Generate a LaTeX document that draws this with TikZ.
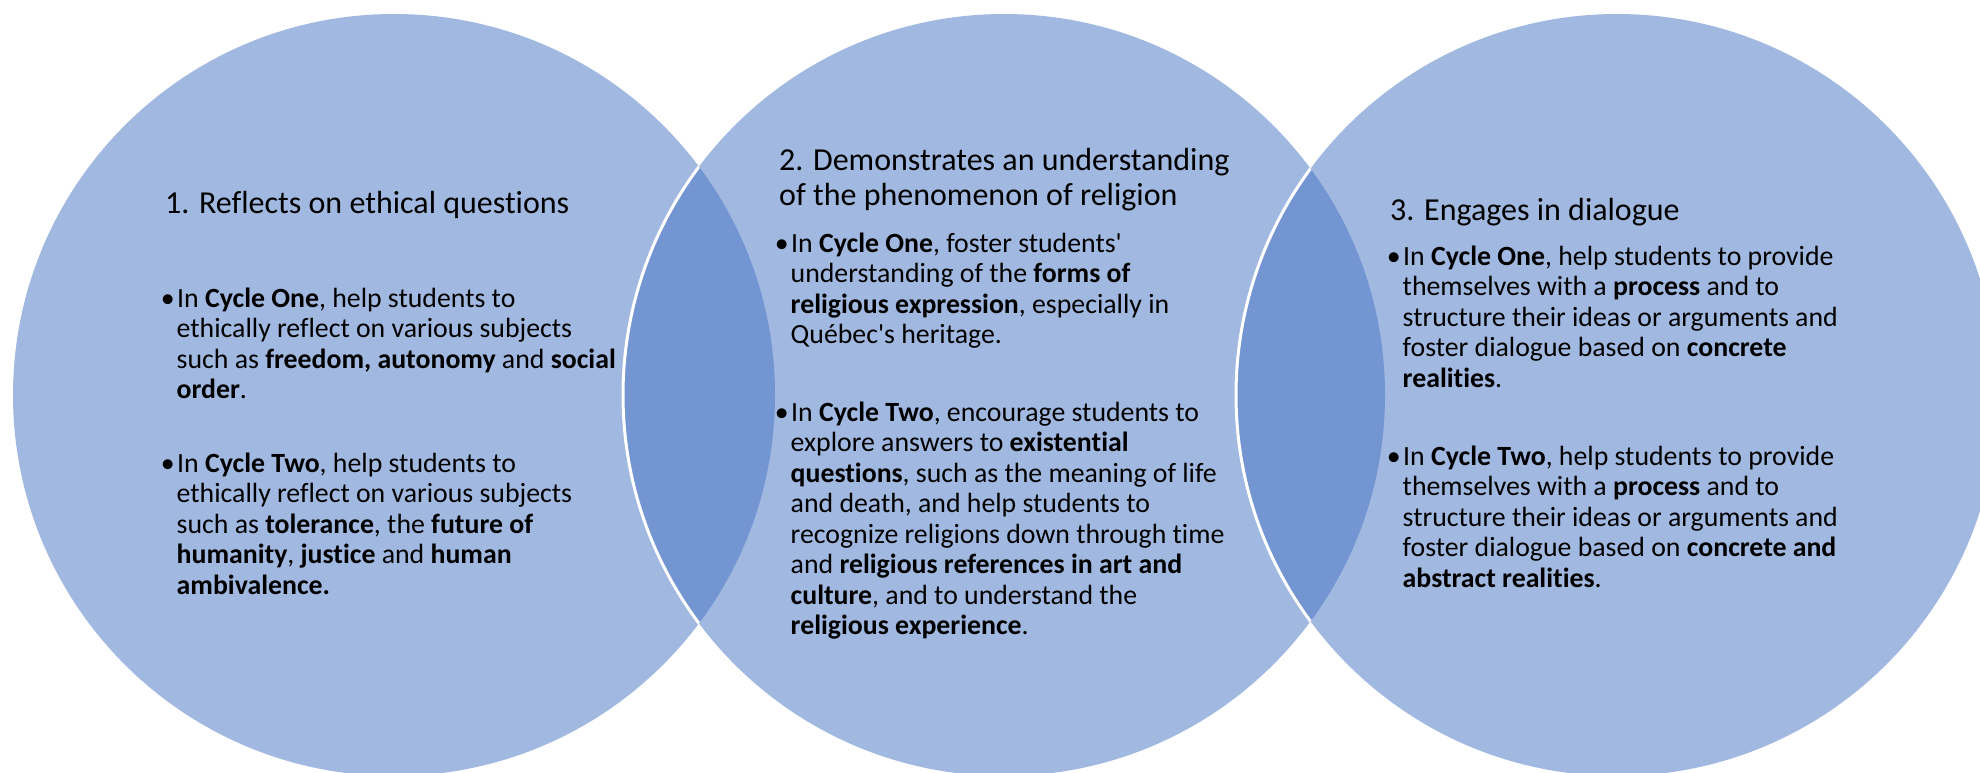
\documentclass[tikz,border=0pt]{standalone}
\usepackage{fontspec}
\setmainfont{Carlito}[Ligatures={TeXOff,NoCommon}]
\definecolor{vennlight}{HTML}{A1B8E1}
\definecolor{venndark}{HTML}{7395D2}
\newcommand\txtblock[1]{\begin{tabular}[t]{@{}l@{}}#1\end{tabular}}
\newcommand\bul{\llap{•\hspace{2pt}}\hspace{0.5pt}}
\begin{document}
\begin{tikzpicture}[x=1pt,y=-1pt,
  ttl/.style={anchor=base west, inner sep=0pt, font=\fontsize{32}{35}\selectfont},
  body/.style={anchor=base west, inner sep=0pt, font=\fontsize{27.8}{30.5}\selectfont},
  rim/.style={draw=white, line width=3pt}]
\useasboundingbox (0,0) rectangle (1980,772);
\begin{scope}
\clip (0,0) rectangle (1980,772);
% circles
\fill[vennlight] (394,395) circle[radius=381pt];
\fill[vennlight] (1004,395) circle[radius=381pt];
\fill[vennlight] (1617,395) circle[radius=381pt];
% lenses
\begin{scope}
  \clip (394,395) circle[radius=381pt];
  \fill[venndark] (1004,395) circle[radius=381pt];
  \draw[rim] (1004,395) circle[radius=381pt];
\end{scope}
\begin{scope}
  \clip (1004,395) circle[radius=381pt];
  \fill[venndark] (1617,395) circle[radius=381pt];
  \draw[rim] (1617,395) circle[radius=381pt];
\end{scope}
\end{scope}
% circle 1 text
\node[ttl] (t1) at (165,213) {1. Reflects on ethical questions};
\node[body] (a1) at (176.5,307) {\txtblock{%
\bul In \textbf{Cycle One}, help students to\\
ethically reflect on various subjects\\
such as \textbf{freedom, autonomy} and \textbf{social}\\
\textbf{order}.}};
\node[body] (a2) at (176.5,472) {\txtblock{%
\bul In \textbf{Cycle Two}, help students to\\
ethically reflect on various subjects\\
such as \textbf{tolerance}, the \textbf{future of}\\
\textbf{humanity}, \textbf{justice} and \textbf{human}\\
\textbf{ambivalence.}}};
% circle 2 text
\node[ttl] (t2) at (779,170) {\fontsize{32}{35}\selectfont\txtblock{%
2. Demonstrates an understanding\\
of the phenomenon of religion}};
\node[body] (b1) at (790.5,252) {\txtblock{%
\bul In \textbf{Cycle One}, foster students'\\
understanding of the \textbf{forms of}\\
\textbf{religious expression}, especially in\\
Québec's heritage.}};
\node[body] (b2) at (790.5,421) {\txtblock{%
\bul In \textbf{Cycle Two}, encourage students to\\
explore answers to \textbf{existential}\\
\textbf{questions}, such as the meaning of life\\
and death, and help students to\\
recognize religions down through time\\
and \textbf{religious references in art and}\\
\textbf{culture}, and to understand the\\
\textbf{religious experience}.}};
% circle 3 text
\node[ttl] (t3) at (1390,220) {3. Engages in dialogue};
\node[body] (c1) at (1402.5,265) {\txtblock{%
\bul In \textbf{Cycle One}, help students to provide\\
themselves with a \textbf{process} and to\\
structure their ideas or arguments and\\
foster dialogue based on \textbf{concrete}\\
\textbf{realities}.}};
\node[body] (c2) at (1402.5,465) {\txtblock{%
\bul In \textbf{Cycle Two}, help students to provide\\
themselves with a \textbf{process} and to\\
structure their ideas or arguments and\\
foster dialogue based on \textbf{concrete and}\\
\textbf{abstract realities}.}};
\end{tikzpicture}
\end{document}
